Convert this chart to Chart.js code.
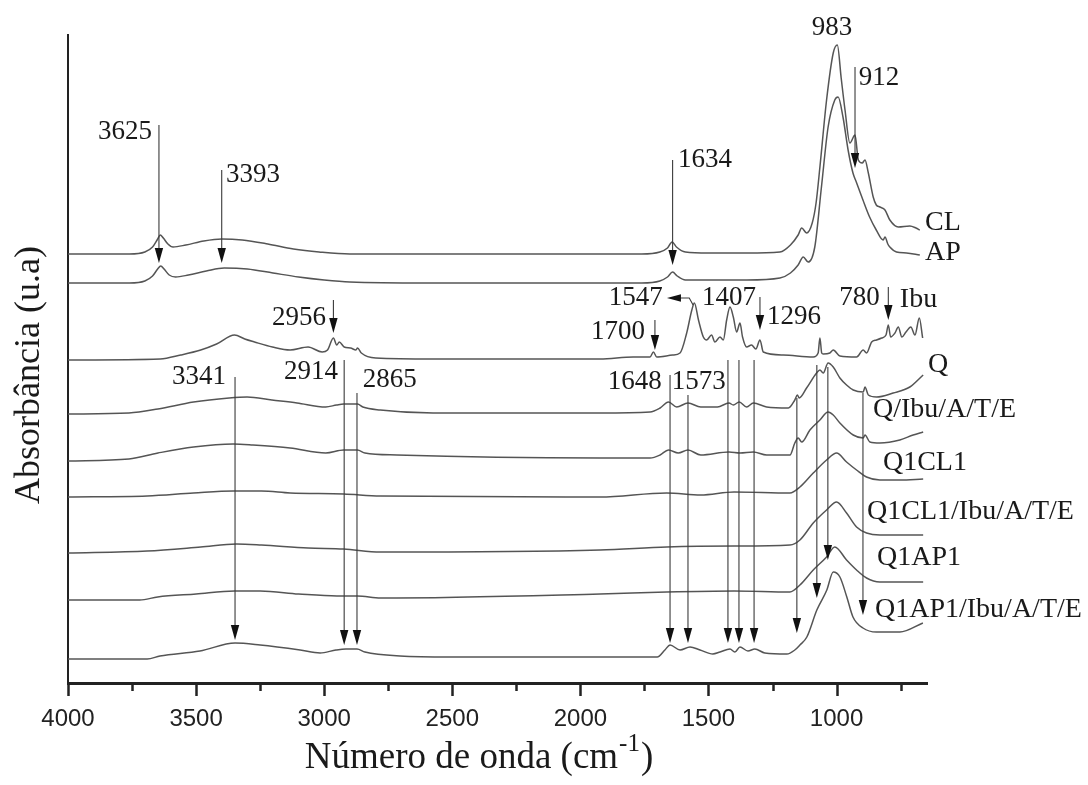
<!DOCTYPE html>
<html>
<head>
<meta charset="utf-8">
<script src="https://cdn.jsdelivr.net/npm/chart.js@4.4.0/dist/chart.umd.min.js"></script>
<style>
  html, body { margin: 0; padding: 0; background: #fff; }
  #wrap { width: 1088px; height: 785px; }
</style>
</head>
<body>
<div id="wrap"><canvas id="ftir" width="1088" height="785"></canvas></div>
<script>
// FTIR spectra, [wavenumber cm-1, absorbance (a.u., stacked)]
const CL = [[4000,42.9],[3760,42.9],[3700,43.1],[3670,43.6],[3650,44.4],[3640,44.8],[3628,44.5],[3610,43.9],[3590,43.6],[3540,43.8],[3470,44.2],[3400,44.4],[3320,44.3],[3220,43.9],[3120,43.4],[3020,43.1],[2900,42.9],[2600,42.9],[2200,42.9],[1760,42.9],[1690,43.1],[1660,43.5],[1642,44.1],[1625,43.6],[1590,43.1],[1500,43.0],[1350,43.0],[1221,43.1],[1180,43.8],[1150,44.8],[1136,45.5],[1117,45.0],[1095,46.0],[1080,48.0],[1065,51.6],[1039,58.3],[1013,63.0],[997,63.8],[982,60.5],[967,57.3],[948,54.0],[928,54.8],[915,52.3],[900,52.0],[889,52.3],[876,51.0],[857,48.6],[845,47.8],[831,47.6],[811,47.3],[792,46.3],[759,45.6],[714,45.7],[690,45.5],[675,45.3]];
const AP = [[4000,40.0],[3760,40.0],[3700,40.2],[3670,40.7],[3650,41.4],[3638,41.7],[3625,41.4],[3605,40.8],[3580,40.6],[3530,40.8],[3460,41.2],[3390,41.5],[3300,41.4],[3200,41.0],[3100,40.6],[3000,40.3],[2900,40.1],[2600,40.0],[2000,40.0],[1760,40.0],[1690,40.2],[1660,40.6],[1640,41.1],[1622,40.7],[1590,40.3],[1500,40.3],[1350,40.3],[1221,40.5],[1180,41.0],[1150,41.8],[1130,42.6],[1111,42.1],[1085,43.6],[1059,49.6],[1033,55.6],[1007,58.3],[994,58.6],[975,56.6],[955,53.3],[936,51.0],[923,50.1],[897,48.3],[871,46.6],[845,45.3],[818,44.3],[811,44.6],[800,43.9],[792,43.6],[766,43.1],[727,43.0],[675,42.8]];
const IBU = [[4000,32.3],[3640,32.4],[3560,32.8],[3482,33.3],[3420,33.9],[3350,34.8],[3310,34.4],[3272,34.1],[3202,33.6],[3133,33.3],[3063,33.6],[3008,33.1],[2987,33.3],[2964,34.5],[2951,33.8],[2941,34.1],[2922,33.6],[2897,33.5],[2876,33.3],[2870,33.5],[2855,33.0],[2799,32.5],[2575,32.4],[1923,32.4],[1794,32.6],[1728,32.6],[1715,33.1],[1702,32.6],[1640,32.8],[1611,33.0],[1585,35.0],[1565,37.3],[1555,38.0],[1539,36.3],[1520,34.6],[1507,34.3],[1488,34.8],[1475,34.1],[1455,34.6],[1442,34.3],[1429,36.3],[1416,37.6],[1403,36.6],[1390,35.1],[1377,36.0],[1367,34.6],[1351,33.6],[1332,33.8],[1315,33.4],[1299,34.3],[1286,33.1],[1208,32.8],[1091,32.6],[1072,33.0],[1065,34.5],[1058,33.0],[1052,32.9],[1026,33.0],[1013,33.3],[987,32.7],[922,32.6],[896,33.3],[883,33.0],[863,34.1],[844,34.3],[824,34.5],[807,34.8],[798,35.8],[789,34.6],[772,35.0],[759,35.6],[745,34.6],[729,35.1],[710,35.6],[694,34.8],[677,36.5],[664,34.5]];
const Q = [[4000,26.9],[3762,27.0],[3649,27.4],[3510,28.1],[3371,28.5],[3301,28.6],[3204,28.3],[3106,28.0],[2994,27.6],[2952,27.8],[2924,27.9],[2870,27.9],[2849,27.6],[2781,27.3],[2575,27.0],[1923,27.0],[1728,27.1],[1689,27.5],[1656,28.1],[1624,27.6],[1580,28.0],[1530,27.6],[1465,27.6],[1420,28.0],[1403,27.8],[1380,28.1],[1351,27.6],[1325,28.0],[1273,27.6],[1188,27.5],[1163,28.3],[1153,28.8],[1146,28.5],[1117,29.5],[1078,31.0],[1065,31.3],[1052,31.0],[1033,32.0],[1013,31.6],[987,30.5],[961,29.8],[935,29.3],[896,29.1],[889,29.6],[876,28.8],[844,28.6],[779,29.0],[714,29.6],[662,30.8]];
const Q_IBU = [[4000,22.2],[3762,22.4],[3649,23.0],[3510,23.6],[3355,23.9],[3278,23.8],[3133,23.5],[2994,23.0],[2924,23.3],[2870,23.3],[2841,23.0],[2716,22.8],[1923,22.5],[1728,22.5],[1689,22.8],[1656,23.3],[1618,23.0],[1580,23.3],[1530,22.8],[1420,23.1],[1377,23.0],[1325,23.1],[1273,22.8],[1182,22.8],[1163,24.0],[1150,24.5],[1136,24.1],[1104,25.3],[1065,26.3],[1033,27.1],[1013,26.8],[987,26.0],[935,24.8],[896,24.5],[889,24.8],[870,24.1],[831,24.0],[753,24.3],[701,24.8],[662,25.1]];
const Q1CL1 = [[4000,18.6],[3691,18.7],[3510,19.0],[3355,19.2],[3245,19.2],[3133,19.0],[2924,18.9],[2781,18.7],[1923,18.6],[1663,19.0],[1530,18.8],[1400,19.1],[1182,19.0],[1143,19.6],[1091,21.0],[1039,22.3],[1000,23.0],[961,22.1],[922,21.3],[883,20.6],[831,20.3],[753,20.3],[662,20.4]];
const Q1CL1_IBU = [[4000,13.0],[3691,13.2],[3482,13.6],[3342,13.9],[3245,13.8],[3063,13.5],[2924,13.4],[2781,13.1],[1923,13.3],[1663,13.6],[1400,13.7],[1182,13.8],[1143,14.3],[1091,16.0],[1039,17.3],[1000,18.1],[961,17.0],[922,15.6],[883,15.0],[831,14.8],[662,14.8]];
const Q1AP1 = [[4000,8.3],[3720,8.3],[3650,8.6],[3500,8.9],[3350,9.2],[3250,9.2],[3100,8.9],[2950,8.7],[2870,8.7],[2780,8.5],[1923,8.9],[1663,9.1],[1400,9.2],[1182,9.1],[1143,9.8],[1091,11.3],[1039,12.6],[1007,13.6],[961,12.3],[922,11.3],[883,10.5],[831,10.1],[662,10.1]];
const Q1AP1_IBU = [[4000,2.4],[3691,2.4],[3641,2.7],[3485,3.2],[3348,4.0],[3250,3.8],[3094,3.3],[3016,3.0],[2954,3.3],[2915,3.4],[2872,3.4],[2841,3.1],[2704,2.7],[2509,2.6],[1700,2.6],[1670,3.3],[1650,3.8],[1611,3.3],[1572,3.6],[1533,3.3],[1483,2.9],[1455,3.1],[1416,3.4],[1397,3.1],[1377,3.6],[1346,3.2],[1319,3.4],[1280,3.0],[1194,2.9],[1163,3.3],[1143,3.8],[1116,4.6],[1077,7.3],[1038,9.3],[1013,11.1],[987,10.6],[960,8.6],[936,6.6],[897,5.5],[844,5.1],[753,5.1],[663,6.0]];

const seriesNames = ["CL", "AP", "Ibu", "Q", "Q/Ibu/A/T/E", "Q1CL1", "Q1CL1/Ibu/A/T/E", "Q1AP1", "Q1AP1/Ibu/A/T/E"];
const seriesData  = [CL, AP, IBU, Q, Q_IBU, Q1CL1, Q1CL1_IBU, Q1AP1, Q1AP1_IBU];
// where each curve name sits: [wavenumber, absorbance]
const seriesLabelPos = [[655,46.0],[655,43.0],[753,38.3],[643,31.8],[858,27.3],[819,22.0],[881,17.1],[842,12.5],[850,7.3]];

const xTicks = [4000, 3750, 3500, 3250, 3000, 2750, 2500, 2250, 2000, 1750, 1500, 1250, 1000, 750];

// band arrows: [wavenumber, from, to]
const bandArrows = [
  [3645,55.8,42.0],[3400,51.3,42.0],[1640,52.3,41.8],[928,61.6,51.5],
  [1709,36.3,33.3],[2964,38.3,35.0],[1299,38.6,35.3],[798,39.6,36.3],
  [3348,30.6,4.3],[2922,32.3,3.8],[2872,29.0,3.8],[1650,30.8,4.0],[1580,28.8,4.0],
  [1424,32.3,4.0],[1381,32.3,4.0],[1322,32.3,4.0],[1155,28.5,5.0],[1077,31.8,8.5],[1034,31.6,12.3],[897,29.0,6.8]
];
// band labels: [text, wavenumber, absorbance, align]
const bandLabels = [
  ["3625",3672,55.1,"right"],["3393",3383,50.8,"left"],["1634",1619,52.3,"left"],
  ["983",1018,65.5,"center"],["912",913,60.5,"left"],
  ["1547",1678,38.5,"right"],["1407",1420,38.5,"center"],["1296",1272,36.6,"left"],
  ["1700",1748,35.1,"right"],["2956",2993,36.5,"right"],["780",831,38.5,"right"],
  ["3341",3383,30.6,"right"],["2914",2946,31.1,"right"],["2865",2849,30.3,"left"],
  ["1648",1682,30.1,"right"],["1573",1643,30.1,"left"]
];
// leader for 1547 (points to the left)
const leader1547 = [[1560,37.8],[1575,38.5],[1662,38.5]];

const serif = '"Liberation Serif", "Times New Roman", serif';

function arrowHead(ctx, tipX, tipY, dx, dy, len, half) {
  // dx,dy unit direction of the arrow
  const bx = tipX - dx * len, by = tipY - dy * len;
  ctx.beginPath();
  ctx.moveTo(tipX, tipY);
  ctx.lineTo(bx - dy * half, by + dx * half);
  ctx.lineTo(bx + dy * half, by - dx * half);
  ctx.closePath();
  ctx.fill();
}

const annotate = {
  id: 'annotate',
  afterDraw(chart) {
    const { ctx, chartArea, scales: { x, y } } = chart;
    ctx.save();

    // x tick marks, long ones every 500
    ctx.strokeStyle = '#222';
    ctx.lineWidth = 2.5;
    xTicks.forEach(v => {
      const px = Math.round(x.getPixelForValue(v)) + 0.5;
      const len = v % 500 === 0 ? 13 : 8;
      ctx.beginPath();
      ctx.moveTo(px, chartArea.bottom);
      ctx.lineTo(px, chartArea.bottom + len);
      ctx.stroke();
    });

    // arrows
    ctx.strokeStyle = '#3a3a3a';
    ctx.fillStyle = '#111';
    ctx.lineWidth = 1.1;
    bandArrows.forEach(([cm, from, to]) => {
      const px = x.getPixelForValue(cm);
      const y1 = y.getPixelForValue(from), y2 = y.getPixelForValue(to);
      ctx.beginPath();
      ctx.moveTo(px, y1);
      ctx.lineTo(px, y2 - 10);
      ctx.stroke();
      arrowHead(ctx, px, y2, 0, 1, 15, 4.2);
    });
    const lp = leader1547.map(([cm, v]) => [x.getPixelForValue(cm), y.getPixelForValue(v)]);
    ctx.beginPath();
    ctx.moveTo(lp[0][0], lp[0][1]);
    ctx.lineTo(lp[1][0], lp[1][1]);
    ctx.lineTo(lp[2][0] + 10, lp[2][1]);
    ctx.stroke();
    arrowHead(ctx, lp[2][0], lp[2][1], -1, 0, 14, 3.8);

    // band labels
    ctx.fillStyle = '#1a1a1a';
    ctx.font = '27px ' + serif;
    ctx.textBaseline = 'middle';
    bandLabels.forEach(([t, cm, v, align]) => {
      ctx.textAlign = align;
      ctx.fillText(t, x.getPixelForValue(cm), y.getPixelForValue(v));
    });

    // curve names
    ctx.font = '28px ' + serif;
    ctx.textAlign = 'left';
    seriesNames.forEach((n, i) => {
      const [cm, v] = seriesLabelPos[i];
      ctx.fillText(n, x.getPixelForValue(cm), y.getPixelForValue(v));
    });

    // axis titles
    ctx.textBaseline = 'alphabetic';
    ctx.font = '37px ' + serif;
    const main = 'Número de onda (cm', close = ')';
    const wMain = ctx.measureText(main).width, wClose = ctx.measureText(close).width;
    ctx.font = '25px ' + serif;
    const wSup = ctx.measureText('-1').width;
    let tx = 478 - (wMain + wSup + wClose) / 2;
    ctx.font = '37px ' + serif;
    ctx.fillText(main, tx, 768);
    ctx.font = '25px ' + serif;
    ctx.fillText('-1', tx + wMain + 1, 751);
    ctx.font = '37px ' + serif;
    ctx.fillText(close, tx + wMain + wSup + 2, 768);

    ctx.translate(30, 375);
    ctx.rotate(-Math.PI / 2);
    ctx.textAlign = 'center';
    ctx.textBaseline = 'middle';
    ctx.font = '36px ' + serif;
    ctx.fillText('Absorbância (u.a)', 0, 0);
    ctx.restore();
  }
};

const datasets = seriesData.map((pts, i) => ({
  label: seriesNames[i],
  data: pts.map(([cm, a]) => ({ x: cm, y: a })),
  borderColor: '#555',
  borderWidth: 1.5,
  pointRadius: 0,
  showLine: true,
  fill: false,
  cubicInterpolationMode: 'monotone'
}));

new Chart(document.getElementById('ftir'), {
  type: 'scatter',
  data: { datasets },
  options: {
    responsive: false,
    animation: false,
    layout: { padding: { top: 35, right: 161, left: 0, bottom: 0 } },
    plugins: { legend: { display: false }, tooltip: { enabled: false } },
    scales: {
      x: {
        type: 'linear',
        reverse: true,
        min: 647,
        max: 4000,
        afterBuildTicks: s => { s.ticks = xTicks.map(v => ({ value: v })); },
        afterFit: s => { s.height = 102; },
        grid: { display: false, drawTicks: false },
        border: { display: true, width: 3, color: '#222' },
        ticks: {
          autoSkip: false,
          maxRotation: 0,
          padding: 22,
          color: '#222',
          font: { family: '"Liberation Sans", Arial, sans-serif', size: 24 },
          callback: v => (v % 500 === 0 ? String(v) : '')
        }
      },
      y: {
        min: 0,
        max: 64.8,
        afterFit: s => { s.width = 68; },
        grid: { display: false, drawTicks: false },
        border: { display: true, width: 2, color: '#222' },
        ticks: { display: false }
      }
    }
  },
  plugins: [annotate]
});
</script>
</body>
</html>
